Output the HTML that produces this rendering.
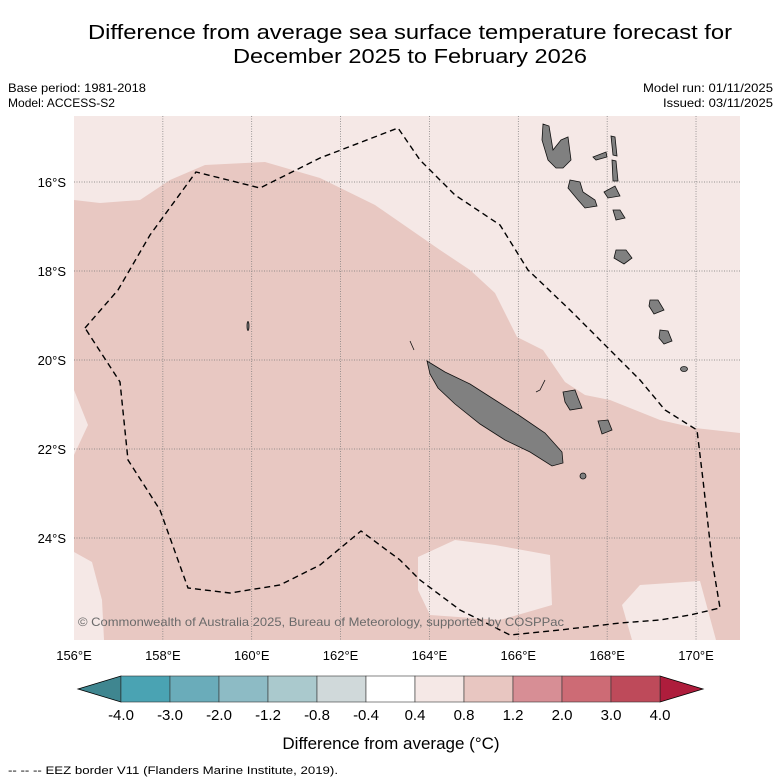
<!DOCTYPE html>
<html><head><meta charset="utf-8"><style>
html,body{margin:0;padding:0;background:#fff}
svg{display:block;font-family:"Liberation Sans","DejaVu Sans",sans-serif}
</style></head><body>
<svg id="chart" width="781" height="781" viewBox="0 0 781 781">
<text x="410" y="39" font-size="20" text-anchor="middle" textLength="644" lengthAdjust="spacingAndGlyphs">Difference from average sea surface temperature forecast for</text>
<text x="410" y="63" font-size="20" text-anchor="middle" textLength="354" lengthAdjust="spacingAndGlyphs">December 2025 to February 2026</text>
<text x="8" y="92" font-size="12" textLength="138" lengthAdjust="spacingAndGlyphs">Base period: 1981-2018</text>
<text x="8" y="107" font-size="12" textLength="107" lengthAdjust="spacingAndGlyphs">Model: ACCESS-S2</text>
<text x="773" y="92" font-size="12" text-anchor="end" textLength="130" lengthAdjust="spacingAndGlyphs">Model run: 01/11/2025</text>
<text x="773" y="107" font-size="12" text-anchor="end" textLength="110" lengthAdjust="spacingAndGlyphs">Issued: 03/11/2025</text>

<g>
<rect x="74" y="116" width="666" height="524" fill="#e8c8c2"/>
<path fill="#f5e8e6" d="M74,116 L740,116 L740,433 L695,428 L660,420 L635,410 L610,400 L585,395 L565,382 L543,350 L517,337 L495,293 L470,270 L440,250 L375,205 L320,178 L265,162 L205,165 L170,180 L140,200 L100,203 L74,200 Z"/>
<path fill="#f5e8e6" d="M74,390 L88,425 L74,455 Z"/>
<path fill="#f5e8e6" d="M74,552 L92,562 L102,600 L104,640 L74,640 Z"/>
<path fill="#f5e8e6" d="M418,557 L455,540 L495,545 L550,555 L552,605 L500,620 L430,615 L418,590 Z"/>
<path fill="#f5e8e6" d="M632,640 L622,605 L640,585 L700,581 L716,640 Z"/>
<g id="grid" stroke="#777" stroke-width="0.7" stroke-dasharray="1,1.5"></g>
<g fill="#808080" stroke="#111" stroke-width="0.8">
<path d="M427,361 L445,372 L470,384 L495,400 L520,416 L545,433 L562,452 L563,463 L552,466 L530,452 L505,440 L480,424 L455,404 L438,388 L430,374 Z"/>
<path d="M543,124 L549,126 L553,150 L561,140 L568,137 L571,160 L563,168 L556,168 L548,160 L542,140 Z"/>
<path d="M570,180 L580,182 L583,192 L595,200 L597,206 L585,208 L578,200 L568,188 Z"/>
<path d="M604,192 L615,186 L620,196 L608,198 Z"/>
<path d="M611,136 L615,137 L617,156 L613,155 Z"/>
<path d="M593,157 L606,152 L607,157 L596,160 Z"/>
<path d="M612,160 L616,161 L618,181 L613,181 Z"/>
<path d="M613,210 L620,210 L625,218 L616,220 Z"/>
<path d="M616,250 L626,250 L632,258 L624,264 L614,258 Z"/>
<path d="M650,300 L658,300 L664,310 L654,314 L649,306 Z"/>
<path d="M660,330 L668,331 L672,341 L664,344 L659,338 Z"/>
<path d="M563,392 L575,390 L578,398 L582,408 L570,410 L565,402 Z"/>
<path d="M598,421 L608,420 L612,430 L602,434 Z"/>
<ellipse cx="684" cy="369" rx="3.5" ry="2.5"/>
<ellipse cx="248" cy="326" rx="1" ry="4.5"/>
<ellipse cx="583" cy="476" rx="3" ry="3"/>
<path fill="none" d="M410,341 L414,350"/>
<path fill="none" d="M545,380 L540,390 L536,392"/>
</g>
<path fill="none" stroke="#000" stroke-width="1.4" stroke-dasharray="6,4" d="M85,328 L118,290 L150,235 L196,172 L260,188 L320,158 L398,128 L420,160 L455,195 L500,225 L528,270 L570,310 L610,350 L640,380 L665,410 L697,430 L703,480 L712,560 L720,608 L690,615 L660,620 L620,623 L560,630 L510,635 L460,610 L420,580 L400,560 L361,531 L320,565 L280,585 L230,593 L188,588 L160,510 L128,460 L120,382 Z"/>
<text x="78" y="626" font-size="12" fill="#6a6a6a" textLength="486" lengthAdjust="spacingAndGlyphs">© Commonwealth of Australia 2025, Bureau of Meteorology, supported by COSPPac</text>
</g>
<g id="axes"></g>
<g id="colorbar"></g>
<text x="391" y="749" font-size="17" text-anchor="middle">Difference from average (°C)</text>
<text x="8" y="774" font-size="11" textLength="330" lengthAdjust="spacingAndGlyphs">--  --  -- EEZ border V11 (Flanders Marine Institute, 2019).</text>
</svg>
<script>
const lonTicks = [156,158,160,162,164,166,168,170];
const latTicks = [16,18,20,22,24];
const cbBounds = [-4.0,-3.0,-2.0,-1.2,-0.8,-0.4,0.4,0.8,1.2,2.0,3.0,4.0];
const cbLabels = ["-4.0","-3.0","-2.0","-1.2","-0.8","-0.4","0.4","0.8","1.2","2.0","3.0","4.0"];
const cbColors = ["#4aa3b3","#6aacba","#8dbbc5","#aac9cd","#d0d9da","#ffffff","#f5e8e6","#e8c6c1","#d78e95","#cd6b75","#be4a5a"];
const cbUnder = "#3f8690", cbOver = "#ae1d3c";

const NS="http://www.w3.org/2000/svg";
const xLon = lon => 74 + (lon-156)*44.43;
const yLat = lat => 182 + (lat-16)*44.5;
function mk(tag, attrs, parent){const e=document.createElementNS(NS,tag);for(const k in attrs)e.setAttribute(k,attrs[k]);parent.appendChild(e);return e;}
const grid=document.getElementById('grid'), axes=document.getElementById('axes'), cb=document.getElementById('colorbar');
lonTicks.forEach(l=>{
  const x=xLon(l);
  if(l>156){const ln=mk('line',{x1:x,x2:x,y1:116,y2:640},grid);
  
  }
  const t=mk('text',{x:x,y:660,'font-size':13,'text-anchor':'middle'},axes);
  t.textContent=l+'°E';
  
  
});
latTicks.forEach(l=>{
  const y=yLat(l);
  const ln=mk('line',{x1:74,x2:740,y1:y,y2:y},grid);
  
  
  const t=mk('text',{x:66,y:y+5,'font-size':13,'text-anchor':'end'},axes);
  t.textContent=l+'°S';
  
  
});
// colorbar: evenly spaced boxes
const cbX0=121, cbX1=660, cbY=676, cbH=26, n=cbColors.length, w=(cbX1-cbX0)/n;
const idx = v => cbX0 + cbBounds.indexOf(v)*w;
const under=mk('polygon',{points:`${cbX0},${cbY} ${cbX0},${cbY+cbH} 78,${cbY+cbH/2}`,fill:cbUnder,stroke:'#000','stroke-width':0.8},cb);


const over=mk('polygon',{points:`${cbX1},${cbY} ${cbX1},${cbY+cbH} 703,${cbY+cbH/2}`,fill:cbOver,stroke:'#000','stroke-width':0.8},cb);


cbColors.forEach((c,i)=>{
  const r=mk('rect',{x:idx(cbBounds[i]),y:cbY,width:idx(cbBounds[i+1])-idx(cbBounds[i]),height:cbH,fill:c,stroke:'#333','stroke-width':0.6},cb);
  
  
});
cbBounds.forEach((b,i)=>{
  const t=mk('text',{x:idx(b),y:720,'font-size':15,'text-anchor':'middle'},cb);
  t.textContent=cbLabels[i];
  
  
});
</script>
</body></html>
